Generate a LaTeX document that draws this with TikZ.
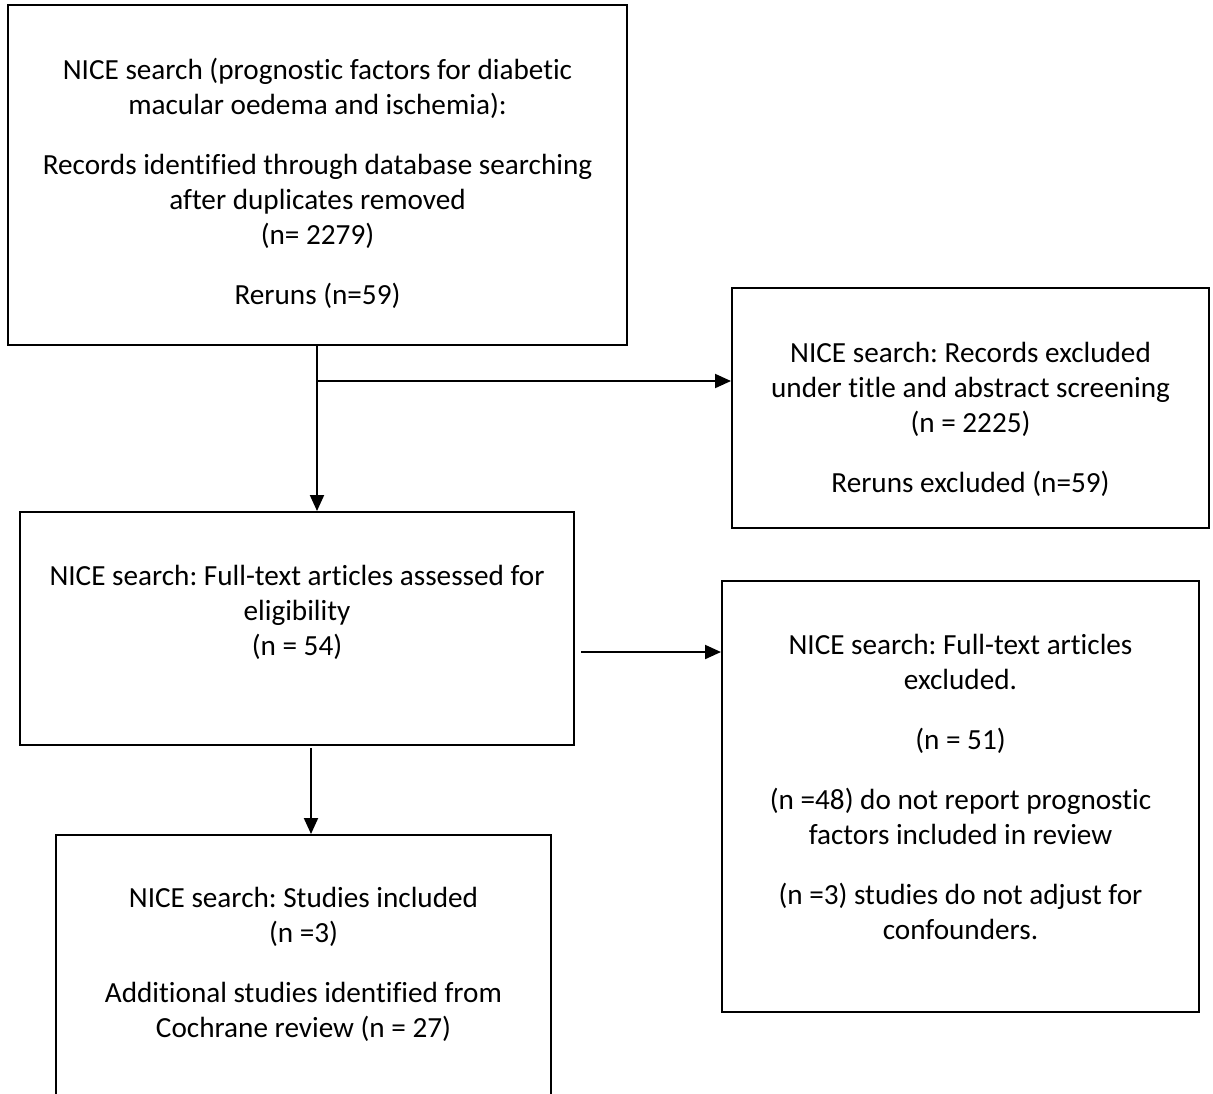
\documentclass[tikz,border=0pt]{standalone}
\usepackage{fontspec}
\setmainfont{Carlito}[Ligatures={NoCommon}]
\usetikzlibrary{arrows.meta}
\begin{document}
\frenchspacing
\begin{tikzpicture}[x=0.5pt,y=-0.5pt,
  box/.style={draw=black,line width=1pt,inner sep=0pt,fill=none},
  txt/.style={anchor=north,align=center,inner sep=0pt,
    font=\fontsize{14.6pt}{17.5pt}\selectfont,execute at begin node=\strut},
  arr/.style={line width=1pt,-{Triangle[length=8pt,width=7pt]}}]
\useasboundingbox (0,0) rectangle (1213,1093);
\clip (0,0) rectangle (1213,1093);
% boxes
\node (b1) [box,minimum width=309.5pt,minimum height=170pt] at (317.5,175) {};
\node (b2) [box,minimum width=238.5pt,minimum height=120pt] at (970.5,408) {};
\node (b3) [box,minimum width=277pt,minimum height=116.5pt] at (297,628.5) {};
\node (b4) [box,minimum width=238.5pt,minimum height=215.5pt] at (960.5,796.5) {};
\node (b5) [box,minimum width=247.5pt,minimum height=142.5pt] at (303.5,977.5) {};
% texts
\node (t1) [txt] at (317.5,57.5) {NICE search (prognostic factors for diabetic\\
  macular oedema and ischemia):\\[12.5pt]
  Records identified through database searching\\
  after duplicates removed\\
  (n= 2279)\\[12.5pt]
  Reruns (n=59)};
\node (t2) [txt] at (970.5,341.5) {NICE search: Records excluded\\
  under title and abstract screening\\
  (n = 2225)\\[12.5pt]
  Reruns excluded (n=59)};
\node (t3) [txt] at (297,564.5) {NICE search: Full-text articles assessed for\\
  eligibility\\
  (n = 54)};
\node (t4) [txt] at (960.5,633.5) {NICE search: Full-text articles\\
  excluded.\\[12.5pt]
  (n = 51)\\[12.5pt]
  (n =48) do not report prognostic\\
  factors included in review\\[12.5pt]
  (n =3) studies do not adjust for\\
  confounders.};
\node (t5) [txt] at (303.5,886.5) {NICE search: Studies included\\
  (n =3)\\[12.5pt]
  Additional studies identified from\\
  Cochrane review (n = 27)};
% connectors
\coordinate (j1) at (317,381);
\coordinate (s2) at (581,652);
\coordinate (s3) at (311,748);
\draw[arr] (b1.south -| j1) -- (j1 |- b3.north);
\draw[arr] (j1) -- (j1 -| b2.west);
\draw[arr] (s2) -- (s2 -| b4.west);
\draw[arr] (s3) -- (s3 |- b5.north);
\end{tikzpicture}
\end{document}
